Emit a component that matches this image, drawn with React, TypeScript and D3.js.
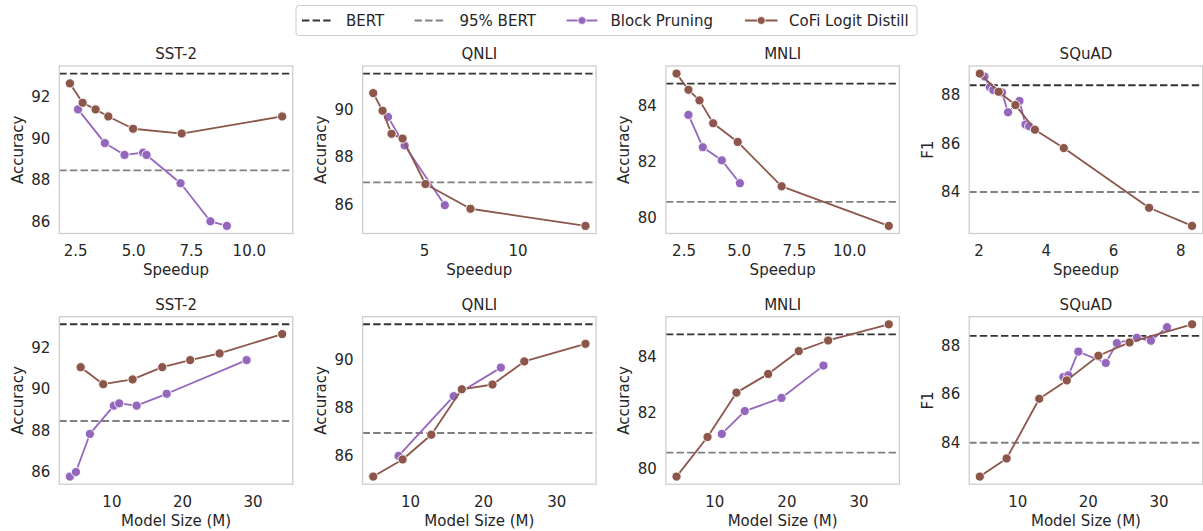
import React from "react";
import * as d3 from "d3";

// ---------- data ----------
const TASKS = ["SST-2", "QNLI", "MNLI", "SQuAD"];
const Y_LABELS = ["Accuracy", "Accuracy", "Accuracy", "F1"];
const BERT = [93.1, 91.5, 84.8, 88.4];
const BERT_95 = [88.45, 86.93, 80.56, 83.98];

const SPEEDUP_TICKS = [[2.5, 5, 7.5, 10], [5, 10], [2.5, 5, 7.5, 10], [2, 4, 6, 8]];
const SPEEDUP_TICK_LABELS = [["2.5", "5.0", "7.5", "10.0"], ["5", "10"], ["2.5", "5.0", "7.5", "10.0"], ["2", "4", "6", "8"]];
const SIZE_TICKS = [10, 20, 30];
const SIZE_TICK_LABELS = ["10", "20", "30"];
const Y_TICKS = [[86, 88, 90, 92], [86, 88, 90], [80, 82, 84], [84, 86, 88]];

const LEGEND_LABELS = ["BERT", "95% BERT", "Block Pruning", "CoFi Logit Distill"];

// Block Pruning
const BP_SST2_SPEEDUP = [2.6, 3.76, 4.61, 5.41, 5.56, 7.03, 8.32, 9.03];
const BP_SST2_SIZE = [29.08, 17.75, 13.5, 11.03, 10.28, 6.88, 4.9, 4.05];
const BP_SST2_SCORE = [91.38, 89.76, 89.19, 89.3, 89.19, 87.83, 86.0, 85.78];

const BP_QNLI_SPEEDUP = [3.05, 3.94, 6.09];
const BP_QNLI_SIZE = [22.36, 15.91, 8.37];
const BP_QNLI_SCORE = [89.68, 88.48, 85.97];

const BP_MNLI_SPEEDUP = [2.7, 3.35, 4.21, 5.03];
const BP_MNLI_SIZE = [25.07, 19.25, 14.16, 10.97];
const BP_MNLI_SCORE = [83.68, 82.52, 82.05, 81.23];

const BP_SQUAD_SPEEDUP = [2.16, 2.32, 2.42, 2.68, 2.86, 3.2, 3.38, 3.49];
const BP_SQUAD_SIZE = [31.12, 26.86, 28.85, 24.03, 22.46, 18.58, 17.17, 16.46];
const BP_SQUAD_SCORE = [88.76, 88.32, 88.2, 88.1, 87.28, 87.75, 86.77, 86.7];

// CoFi Logit Distill
const COFI_SST2_SPEEDUP = [2.25, 2.8, 3.36, 3.91, 4.98, 7.08, 11.42];
const COFI_SST2_SIZE = [34.12, 25.25, 21.09, 17.13, 12.93, 8.77, 5.57];
const COFI_SST2_SCORE = [92.63, 91.7, 91.38, 91.04, 90.45, 90.22, 91.04];

const COFI_QNLI_SPEEDUP = [2.26, 2.76, 3.24, 3.83, 5.05, 7.46, 13.61];
const COFI_QNLI_SIZE = [33.94, 25.57, 21.22, 17.02, 12.85, 8.92, 4.9];
const COFI_QNLI_SCORE = [90.68, 89.94, 88.97, 88.77, 86.86, 85.82, 85.1];

const COFI_MNLI_SPEEDUP = [2.16, 2.7, 3.2, 3.82, 4.93, 6.92, 11.77];
const COFI_MNLI_SIZE = [34.13, 25.72, 21.65, 17.4, 13.0, 8.99, 4.69];
const COFI_MNLI_SCORE = [85.16, 84.58, 84.2, 83.38, 82.71, 81.12, 79.7];

const COFI_SQUAD_SPEEDUP = [2.02, 2.58, 3.08, 3.66, 4.52, 7.06, 8.34];
const COFI_SQUAD_SIZE = [34.67, 25.82, 21.42, 16.94, 13.05, 8.43, 4.64];
const COFI_SQUAD_SCORE = [88.88, 88.13, 87.58, 86.56, 85.8, 83.33, 82.58];

const BP_SPEEDUP = [BP_SST2_SPEEDUP, BP_QNLI_SPEEDUP, BP_MNLI_SPEEDUP, BP_SQUAD_SPEEDUP];
const BP_SIZE = [BP_SST2_SIZE, BP_QNLI_SIZE, BP_MNLI_SIZE, BP_SQUAD_SIZE];
const BP_SCORE = [BP_SST2_SCORE, BP_QNLI_SCORE, BP_MNLI_SCORE, BP_SQUAD_SCORE];
const COFI_SPEEDUP = [COFI_SST2_SPEEDUP, COFI_QNLI_SPEEDUP, COFI_MNLI_SPEEDUP, COFI_SQUAD_SPEEDUP];
const COFI_SIZE = [COFI_SST2_SIZE, COFI_QNLI_SIZE, COFI_MNLI_SIZE, COFI_SQUAD_SIZE];
const COFI_SCORE = [COFI_SST2_SCORE, COFI_QNLI_SCORE, COFI_MNLI_SCORE, COFI_SQUAD_SCORE];

// ---------- style ----------
const W = 1203;
const H = 531;
const FONT = "'DejaVu Sans', sans-serif";
const FS = 15;
const TEXT = "#262626";
const FRAME = "#cccccc";
const BP_COLOR = "#9467bd";
const COFI_COLOR = "#8c564b";
const BERT_COLOR = "#333333";
const BERT95_COLOR = "#808080";
const DASH = "7.4 3.2";

const PANEL_LEFT = [59.3, 362.6, 665.9, 969.2];
const PANEL_W = 233.5;
const ROW_TOP = [66, 316.7];
const PANEL_H = 167.5;

function padExtent(vals: number[]): [number, number] {
  const [a, b] = d3.extent(vals) as [number, number];
  const m = (b - a) * 0.05;
  return [a - m, b + m];
}

type Pt = { x: number; y: number };

function Panel({ task, row }: { task: number; row: number }) {
  const left = PANEL_LEFT[task];
  const top = ROW_TOP[row];
  const bpX = row === 0 ? BP_SPEEDUP[task] : BP_SIZE[task];
  const cofiX = row === 0 ? COFI_SPEEDUP[task] : COFI_SIZE[task];
  const bpPts: Pt[] = bpX.map((x, i) => ({ x, y: BP_SCORE[task][i] })).sort((a, b) => a.x - b.x);
  const cofiPts: Pt[] = cofiX.map((x, i) => ({ x, y: COFI_SCORE[task][i] })).sort((a, b) => a.x - b.x);

  const xs = d3.scaleLinear()
    .domain(padExtent([...bpX, ...cofiX]))
    .range([left, left + PANEL_W]);
  const ys = d3.scaleLinear()
    .domain(padExtent([...BP_SCORE[task], ...COFI_SCORE[task], BERT[task], BERT_95[task]]))
    .range([top + PANEL_H, top]);

  const line = d3.line<Pt>().x((d) => xs(d.x)).y((d) => ys(d.y));
  const xTicks = row === 0 ? SPEEDUP_TICKS[task] : SIZE_TICKS;
  const xTickLabels = row === 0 ? SPEEDUP_TICK_LABELS[task] : SIZE_TICK_LABELS;
  const bottom = top + PANEL_H;

  const series = [
    { pts: bpPts, color: BP_COLOR },
    { pts: cofiPts, color: COFI_COLOR },
  ];

  return (
    <g>
      <defs>
        <clipPath id={`clip-${row}-${task}`}>
          <rect x={left} y={top} width={PANEL_W} height={PANEL_H} />
        </clipPath>
      </defs>
      <g clipPath={`url(#clip-${row}-${task})`}>
        <line x1={left} x2={left + PANEL_W} y1={ys(BERT[task])} y2={ys(BERT[task])}
          stroke={BERT_COLOR} strokeWidth={1.9} strokeDasharray={DASH} />
        <line x1={left} x2={left + PANEL_W} y1={ys(BERT_95[task])} y2={ys(BERT_95[task])}
          stroke={BERT95_COLOR} strokeWidth={1.9} strokeDasharray={DASH} />
      </g>
      {series.map((s, si) => (
        <g key={si}>
          <path d={line(s.pts) || ""} fill="none" stroke={s.color} strokeWidth={1.8} strokeLinejoin="round" />
          {s.pts.map((p, i) => (
            <circle key={i} cx={xs(p.x)} cy={ys(p.y)} r={4.6} fill={s.color} stroke="#ffffff" strokeWidth={0.9} />
          ))}
        </g>
      ))}
      <rect x={left} y={top} width={PANEL_W} height={PANEL_H} fill="none" stroke={FRAME} strokeWidth={1.25} />
      {Y_TICKS[task].map((t) => (
        <text key={t} x={left - 9} y={ys(t)} dy="0.36em" textAnchor="end" fontSize={FS} fill={TEXT}>{t}</text>
      ))}
      {xTicks.map((t, i) => (
        <text key={t} x={xs(t)} y={bottom + 22.5} textAnchor="middle" fontSize={FS} fill={TEXT}>{xTickLabels[i]}</text>
      ))}
      <text x={left + PANEL_W / 2} y={top - 6.7} textAnchor="middle" fontSize={FS} fill={TEXT}>{TASKS[task]}</text>
      <text x={left + PANEL_W / 2} y={bottom + 41.5} textAnchor="middle" fontSize={FS} fill={TEXT}>
        {row === 0 ? "Speedup" : "Model Size (M)"}
      </text>
      <text transform={`translate(${left - 36.5},${top + PANEL_H / 2}) rotate(-90)`} textAnchor="middle" fontSize={FS} fill={TEXT}>
        {Y_LABELS[task]}
      </text>
    </g>
  );
}

function Legend() {
  const y = 20.5;
  const handles = [
    { x0: 302, x1: 331, tx: 346, color: BERT_COLOR, dash: true, marker: false },
    { x0: 414.5, x1: 445, tx: 459.5, color: BERT95_COLOR, dash: true, marker: false },
    { x0: 566.5, x1: 597.5, tx: 610.5, color: BP_COLOR, dash: false, marker: true },
    { x0: 745, x1: 777.5, tx: 789, color: COFI_COLOR, dash: false, marker: true },
  ];
  return (
    <g>
      <rect x={296} y={5.5} width={621} height={30} rx={3} fill="#ffffff" stroke={FRAME} strokeWidth={1} />
      {handles.map((h, i) => (
        <g key={i}>
          <line x1={h.x0} x2={h.x1} y1={y} y2={y} stroke={h.color} strokeWidth={1.9}
            strokeDasharray={h.dash ? DASH : undefined} />
          {h.marker && <circle cx={(h.x0 + h.x1) / 2} cy={y} r={4} fill={h.color} stroke="#ffffff" strokeWidth={0.8} />}
          <text x={h.tx} y={y + 5.5} fontSize={FS} fill={TEXT}>{LEGEND_LABELS[i]}</text>
        </g>
      ))}
    </g>
  );
}

export default function App() {
  return (
    <svg width={W} height={H} viewBox={`0 0 ${W} ${H}`}
      style={{ position: "absolute", left: 0, top: 0, background: "#ffffff", fontFamily: FONT }}>
      <rect x={0} y={0} width={W} height={H} fill="#ffffff" />
      {[0, 1].map((row) => TASKS.map((_, t) => <Panel key={`${row}-${t}`} task={t} row={row} />))}
      <Legend />
    </svg>
  );
}
